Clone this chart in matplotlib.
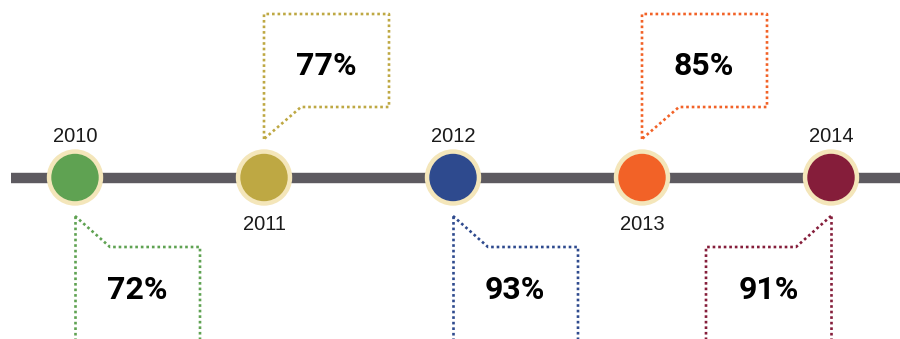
import matplotlib.pyplot as plt
from matplotlib.patches import Circle
import numpy as np

#%% Timeline data
years = ['2010', '2011', '2012', '2013', '2014']
rates = [72, 77, 93, 85, 91]
colors = ['#5fa252', '#bea843', '#2e4a8e', '#f26227', '#851d3a']

#%% Layout (pixel coordinates, y grows downward)
W, H = 900, 339
x0, step = 75, 189
line_y = 177.5
ring_col = '#f4e6ba'
box_w = 125

fig = plt.figure(figsize=(9, 3.39), dpi=100)
ax = fig.add_axes([0, 0, 1, 1])
ax.set_xlim(0, W)
ax.set_ylim(H, 0)
ax.axis('off')

# main bar
ax.plot([11, W], [line_y, line_y], color='#5d5a60', lw=7.5,
        solid_capstyle='butt', zorder=1)

year_font = ['Liberation Sans Narrow', 'Liberation Sans', 'DejaVu Sans']
pct_font = ['Roboto', 'DejaVu Sans']
dots = dict(lw=1.9, linestyle=(0, (1, 1.1)), dash_capstyle='butt')

for i, (yr, val, c) in enumerate(zip(years, rates, colors)):
    cx = x0 + i * step
    ax.add_patch(Circle((cx, line_y), 27.5, color=ring_col, zorder=2))
    ax.add_patch(Circle((cx, line_y), 23, color=c, zorder=3))

    above = (i % 2 == 1)
    if above:
        # callout over the marker, year under it
        ax.text(cx, 224.5, yr, ha='center', va='center', fontsize=14.5,
                family=year_font, color='#1a1a1a')
        px = [cx, cx, cx + box_w, cx + box_w, cx + 37, cx]
        py = [139, 14, 14, 107, 107, 139]
        ax.plot(px, py, color=c, **dots)
        ax.text(cx + 62, 66, '%d%%' % val, ha='center', va='center',
                fontsize=23, fontweight='bold', family=pct_font, color='black')
    else:
        ax.text(cx, 136.5, yr, ha='center', va='center', fontsize=14.5,
                family=year_font, color='#1a1a1a')
        sgn = -1 if i == len(years) - 1 else 1
        ax.plot([cx, cx], [216, H + 5], color=c, **dots)
        px = [cx, cx + sgn * 35, cx + sgn * box_w, cx + sgn * box_w]
        py = [216, 247, 247, H + 5]
        ax.plot(px, py, color=c, **dots)
        ax.text(cx + sgn * 62, 290, '%d%%' % val, ha='center', va='center',
                fontsize=23, fontweight='bold', family=pct_font, color='black')

fig.savefig('out.png', dpi=100)
